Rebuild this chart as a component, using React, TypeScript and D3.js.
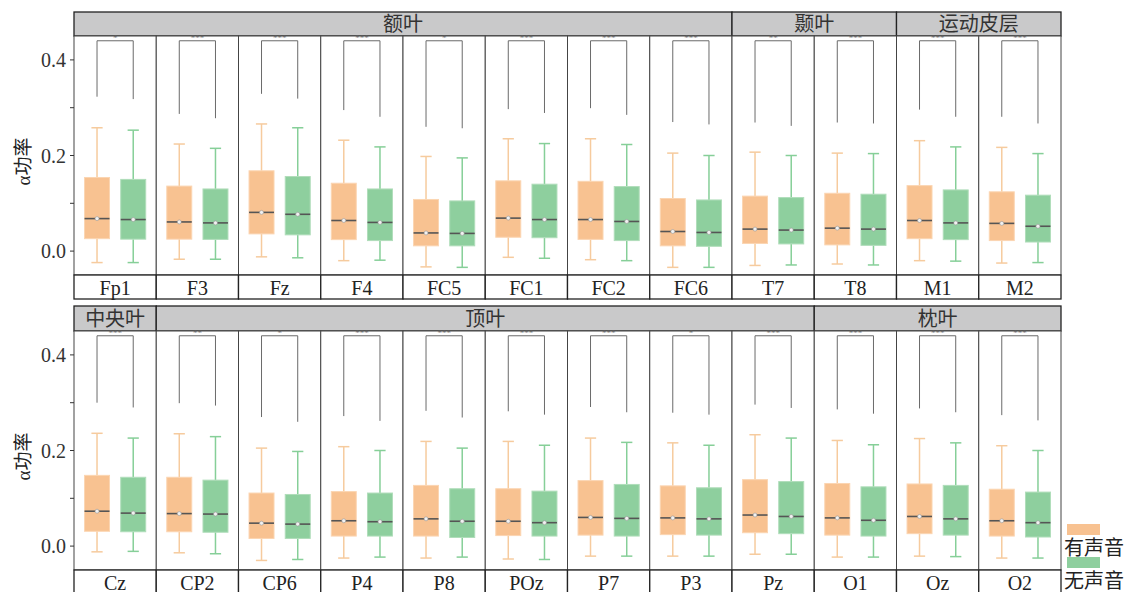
import React from "react";
import * as d3 from "d3";

const electrodes = ["Fp1","F3","Fz","F4","FC5","FC1","FC2","FC6","T7","T8","M1","M2",
  "Cz","CP2","CP6","P4","P8","POz","P7","P3","Pz","O1","Oz","O2"];
const groups = ["有声音", "无声音"];

const voicedMax = [0.258,0.224,0.266,0.232,0.198,0.235,0.235,0.205,0.207,0.205,0.231,0.217, 0.236,0.235,0.205,0.208,0.219,0.219,0.226,0.216,0.233,0.221,0.225,0.210];
const voicedQ3 = [0.154,0.136,0.168,0.142,0.108,0.147,0.146,0.110,0.115,0.121,0.137,0.124, 0.148,0.144,0.111,0.114,0.127,0.120,0.137,0.126,0.139,0.131,0.130,0.119];
const voicedMed = [0.068,0.061,0.081,0.064,0.038,0.069,0.066,0.041,0.046,0.048,0.064,0.058, 0.073,0.068,0.048,0.053,0.057,0.052,0.060,0.059,0.065,0.059,0.062,0.053];
const voicedQ1 = [0.026,0.025,0.036,0.024,0.011,0.029,0.0245,0.011,0.016,0.013,0.026,0.022, 0.031,0.030,0.016,0.021,0.021,0.022,0.023,0.024,0.028,0.023,0.026,0.021];
const voicedMin = [-0.024,-0.017,-0.012,-0.020,-0.033,-0.013,-0.018,-0.034,-0.030,-0.027,-0.020,-0.025, -0.012,-0.014,-0.030,-0.025,-0.025,-0.027,-0.021,-0.021,-0.017,-0.023,-0.021,-0.025];

const silentMax = [0.253,0.215,0.258,0.218,0.195,0.225,0.223,0.200,0.200,0.204,0.218,0.204, 0.226,0.229,0.198,0.200,0.205,0.211,0.217,0.211,0.226,0.212,0.216,0.200];
const silentQ3 = [0.150,0.130,0.156,0.130,0.105,0.140,0.135,0.107,0.112,0.119,0.128,0.117, 0.144,0.138,0.108,0.111,0.120,0.115,0.129,0.122,0.135,0.124,0.127,0.113];
const silentMed = [0.066,0.059,0.077,0.060,0.037,0.066,0.062,0.039,0.044,0.046,0.059,0.052, 0.069,0.067,0.046,0.051,0.052,0.049,0.058,0.057,0.062,0.054,0.057,0.049];
const silentQ1 = [0.025,0.0245,0.034,0.022,0.011,0.028,0.022,0.010,0.015,0.012,0.024,0.019, 0.030,0.029,0.016,0.021,0.018,0.021,0.021,0.023,0.026,0.021,0.023,0.019];
const silentMin = [-0.024,-0.017,-0.014,-0.019,-0.034,-0.015,-0.020,-0.034,-0.029,-0.029,-0.021,-0.024, -0.011,-0.016,-0.028,-0.023,-0.023,-0.028,-0.021,-0.021,-0.017,-0.023,-0.022,-0.025];

const bracketTop = 0.44;
const bracketLeft = [0.323,0.287,0.329,0.295,0.260,0.297,0.299,0.270,0.269,0.269,0.296,0.281, 0.300,0.299,0.270,0.272,0.283,0.282,0.291,0.279,0.296,0.286,0.288,0.274];
const bracketRight = [0.318,0.278,0.319,0.281,0.257,0.289,0.285,0.265,0.262,0.267,0.281,0.267, 0.290,0.294,0.260,0.262,0.269,0.275,0.280,0.275,0.289,0.277,0.280,0.263];
const sigLabels = ["*","***","***","***","*","***","***","***","**","***","***","***",
  "***","**","*","***","***","***","***","*","***","***","***","***"];

const regionNames = ["额叶","颞叶","运动皮层","中央叶","顶叶","枕叶"];
const regionSizes = [8,2,2,1,8,3];

const yTicks = [0, 0.1, 0.2, 0.3, 0.4];
const yTickLabels = ["0.0", "", "0.2", "", "0.4"];

const fills = ["#F8C291", "#8ECF9E"];
const whiskerColors = ["#F6CB9E", "#86CF98"];
const SERIF = "'Liberation Serif', 'Times New Roman', serif";
const CJK = "'Noto Sans CJK SC', sans-serif";

const rows = [
  { top: 36, bottom: 275, stripTop: 12, labelBottom: 299, start: 0, regionStart: 0, regionCount: 3 },
  { top: 331, bottom: 570, stripTop: 306, labelBottom: 595, start: 12, regionStart: 3, regionCount: 3 },
];

export default function App() {
  const left = 74, right = 1061;
  const stats = [
    [voicedMin, voicedQ1, voicedMed, voicedQ3, voicedMax],
    [silentMin, silentQ1, silentMed, silentQ3, silentMax],
  ];
  return (
    <svg width={1130} height={592} style={{ position: "absolute", left: 0, top: 0, background: "#fff" }}>
      {rows.map((row, ri) => {
        const names = electrodes.slice(row.start, row.start + 12);
        const x = d3.scaleBand().domain(names).range([left, right]).padding(0);
        const w = x.bandwidth();
        const inner = d3.scalePoint().domain(groups).range([0, w]).padding(0.636);
        const boxW = inner.step() * 0.69;
        const capW = boxW * 0.45;
        const y = d3.scaleLinear().domain([-0.05, 0.45]).range([row.bottom, row.top]);
        let acc = 0;
        const regions = regionNames.slice(row.regionStart, row.regionStart + row.regionCount).map((n, k) => {
          const size = regionSizes[row.regionStart + k];
          const x0 = x(names[acc])!;
          const x1 = x(names[acc + size - 1])! + w;
          acc += size;
          return { n, x0, x1 };
        });
        const yMid = (row.top + row.bottom) / 2 + 6;
        return (
          <g key={ri}>
            {/* strips */}
            {regions.map((r, k) => (
              <g key={k}>
                <rect x={r.x0} y={row.stripTop} width={r.x1 - r.x0} height={row.top - row.stripTop} fill="#C9C9CA" stroke="#222" strokeWidth={1.3} />
                <text x={(r.x0 + r.x1) / 2} y={(row.stripTop + row.top) / 2} dy="0.36em" textAnchor="middle" fontFamily={CJK} fontSize={20} fill="#333">{r.n}</text>
              </g>
            ))}
            {/* panels */}
            {names.map((name, pi) => {
              const idx = row.start + pi;
              const px = x(name)!;
              return (
                <g key={name}>
                  <rect x={px} y={row.top} width={w} height={row.bottom - row.top} fill="#fff" stroke="#444" strokeWidth={1} />
                  <rect x={px} y={row.bottom} width={w} height={row.labelBottom - row.bottom} fill="#fff" stroke="#222" strokeWidth={1.3} />
                  <text x={px + w / 2} y={row.bottom + 20} textAnchor="middle" fontFamily={SERIF} fontSize={20} fill="#222">{name}</text>
                  {groups.map((g, gi) => {
                    const [mn, q1, md, q3, mx] = stats[gi].map((a) => a[idx]);
                    const cx = px + inner(g)!;
                    return (
                      <g key={g}>
                        <line x1={cx} x2={cx} y1={y(mx)} y2={y(q3)} stroke={whiskerColors[gi]} strokeWidth={1.5} />
                        <line x1={cx} x2={cx} y1={y(q1)} y2={y(mn)} stroke={whiskerColors[gi]} strokeWidth={1.5} />
                        <line x1={cx - capW / 2} x2={cx + capW / 2} y1={y(mx)} y2={y(mx)} stroke={whiskerColors[gi]} strokeWidth={1.5} />
                        <line x1={cx - capW / 2} x2={cx + capW / 2} y1={y(mn)} y2={y(mn)} stroke={whiskerColors[gi]} strokeWidth={1.5} />
                        <rect x={cx - boxW / 2} y={y(q3)} width={boxW} height={y(q1) - y(q3)} fill={fills[gi]} stroke={gi === 0 ? "#FBD5B2" : "#B0DDBA"} strokeWidth={1} />
                        <line x1={cx - boxW / 2} x2={cx + boxW / 2} y1={y(md)} y2={y(md)} stroke="#555" strokeWidth={1.6} />
                        <circle cx={cx} cy={y(md)} r={2} fill="#f2f2f2" stroke="#999" strokeWidth={0.6} />
                      </g>
                    );
                  })}
                </g>
              );
            })}
            {/* brackets, drawn on top */}
            {names.map((name, pi) => {
              const idx = row.start + pi;
              const px = x(name)!;
              const xl = px + inner(groups[0])!;
              const xr = px + inner(groups[1])!;
              return (
                <g key={"b" + name}>
                  <path d={`M${xl},${y(bracketLeft[idx])}V${y(bracketTop)}H${xr}V${y(bracketRight[idx])}`} fill="none" stroke="#6a6a6a" strokeWidth={1} />
                  <text x={(xl + xr) / 2} y={y(bracketTop) + 0.5} textAnchor="middle" fontFamily={SERIF} fontSize={9} fill="#666">{sigLabels[idx]}</text>
                </g>
              );
            })}
            {/* y axis label */}
            <text transform={`translate(30,${yMid}) rotate(-90)`} textAnchor="middle" fontSize={19} fill="#222">
              <tspan fontFamily={SERIF}>α</tspan><tspan fontFamily={CJK}>功率</tspan>
            </text>
            {/* y ticks */}
            {yTicks.map((t, ti) => (
              <g key={ti}>
                <line x1={left - 4} x2={left} y1={y(t)} y2={y(t)} stroke="#333" strokeWidth={1} />
                {yTickLabels[ti] && (
                  <text x={left - 8} y={y(t)} dy="0.35em" textAnchor="end" fontFamily={SERIF} fontSize={20} fill="#333">{yTickLabels[ti]}</text>
                )}
              </g>
            ))}
          </g>
        );
      })}
      {/* legend */}
      <rect x={1067} y={524} width={33} height={11} fill={fills[0]} />
      <text x={1064} y={555} fontFamily={CJK} fontSize={20} fill="#222">{groups[0]}</text>
      <rect x={1067} y={557} width={33} height={11} fill={fills[1]} />
      <text x={1064} y={588} fontFamily={CJK} fontSize={20} fill="#222">{groups[1]}</text>
    </svg>
  );
}
